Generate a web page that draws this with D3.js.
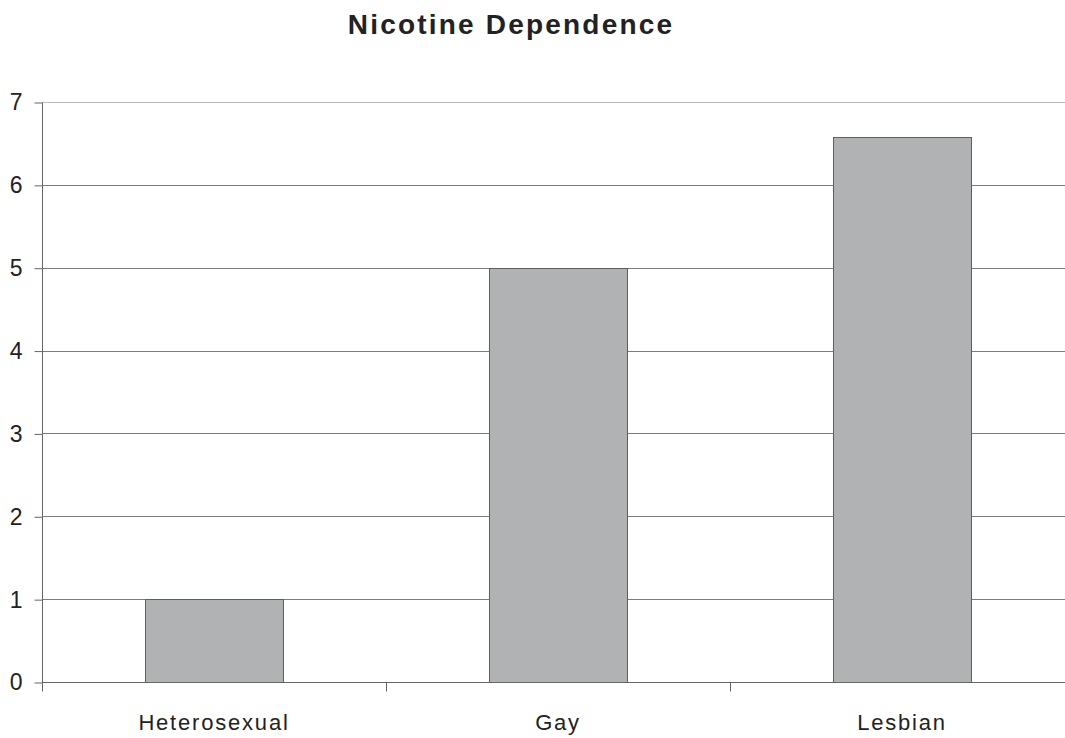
<!DOCTYPE html>
<html>
<head>
<meta charset="utf-8">
<script src="https://cdn.jsdelivr.net/npm/d3@7"></script>
<style>
  html, body { margin: 0; padding: 0; background: #fff; }
  svg { display: block; }
  text { font-family: "Liberation Sans", Arial, sans-serif; fill: #222; }
</style>
</head>
<body>
<svg id="chart" width="1065" height="738"></svg>
<script>
// Nicotine dependence by group
const categories = ["Heterosexual", "Gay", "Lesbian"];
const values = [1.0, 5.0, 6.58];
const yTicks = [0, 1, 2, 3, 4, 5, 6, 7];
const title = "Nicotine Dependence";

const svg = d3.select("#chart");
const W = 1065, H = 738;
const plotLeft = 42, plotTop = 102, plotBottom = 682, plotRight = 1074;

const x = d3.scaleBand().domain(categories).range([plotLeft, plotRight]).padding(0);
const y = d3.scaleLinear().domain([0, 7]).range([plotBottom, plotTop]);

// Horizontal gridlines
svg.append("g")
  .selectAll("line")
  .data(yTicks.filter(d => d > 0))
  .join("line")
  .attr("x1", plotLeft).attr("x2", W)
  .attr("y1", d => Math.round(y(d)) + 0.5)
  .attr("y2", d => Math.round(y(d)) + 0.5)
  .attr("stroke", d => d === 7 ? "#b8b8b8" : "#7c7c7c")
  .attr("stroke-width", 1);

// Bars: 40% of each category band, centred
const barW = x.bandwidth() * 0.4;
svg.append("g")
  .selectAll("rect")
  .data(categories.map((c, i) => ({ c, v: values[i] })))
  .join("rect")
  .attr("x", d => Math.round(x(d.c) + (x.bandwidth() - barW) / 2) + 0.5)
  .attr("y", d => Math.round(y(d.v)) + 0.5)
  .attr("width", Math.round(barW))
  .attr("height", d => Math.round(y(0)) - Math.round(y(d.v)))
  .attr("fill", "#b1b2b4")
  .attr("stroke", "#5e5e5e")
  .attr("stroke-width", 1);

// Y axis
const yAxis = d3.axisLeft(y).tickValues(yTicks).tickSize(8).tickPadding(12).tickFormat(d3.format("d"));
const gy = svg.append("g").attr("transform", `translate(${plotLeft + 0.5},0.5)`).call(yAxis);
gy.select(".domain").attr("stroke", "#666").attr("d", `M0,${plotTop}V${plotBottom + 9}`);
gy.selectAll(".tick line").attr("stroke", "#666");
gy.selectAll(".tick text")
  .attr("font-size", 23)
  .attr("fill", "#222")
  .style("font-family", "'Liberation Sans', Arial, sans-serif");

// X axis with ticks at band boundaries
const gx = svg.append("g").attr("transform", `translate(0,${plotBottom + 0.5})`);
gx.append("line").attr("x1", plotLeft).attr("x2", W).attr("y1", 0).attr("y2", 0).attr("stroke", "#666");
const bounds = categories.slice(1).map(c => x(c));
gx.selectAll("line.tk")
  .data(bounds)
  .join("line")
  .attr("class", "tk")
  .attr("x1", d => Math.round(d) + 0.5).attr("x2", d => Math.round(d) + 0.5)
  .attr("y1", 0).attr("y2", 9)
  .attr("stroke", "#666");
gx.selectAll("text")
  .data(categories)
  .join("text")
  .attr("x", d => x(d) + x.bandwidth() / 2)
  .attr("y", 729 - plotBottom)
  .attr("text-anchor", "middle")
  .attr("font-size", 22)
  .style("letter-spacing", "1.8px")
  .text(d => d);

// Title
svg.append("text")
  .attr("x", 511)
  .attr("y", 34)
  .attr("text-anchor", "middle")
  .attr("font-size", 28)
  .attr("font-weight", "bold")
  .style("letter-spacing", "2.2px")
  .attr("fill", "#1a1a1a")
  .text(title);
</script>
</body>
</html>
